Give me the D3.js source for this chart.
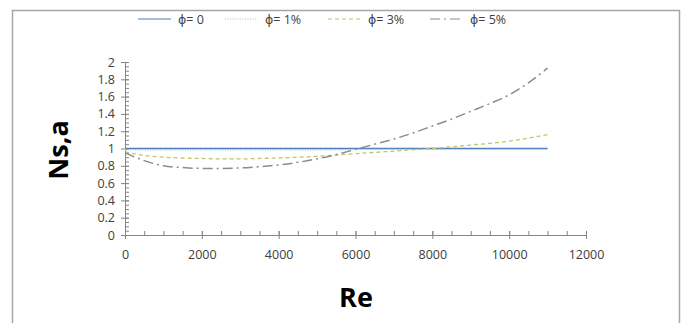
<!DOCTYPE html>
<html>
<head>
<meta charset="utf-8">
<script src="https://cdn.jsdelivr.net/npm/d3@7"></script>
<style>
  body { margin: 0; background: #fff; }
  .tick text { font-family: "Open Sans", sans-serif; font-size: 12.5px; fill: #404040; }
  .axisTitle { font-family: "Open Sans", sans-serif; font-weight: bold; font-size: 27px; fill: #000; }
  .legendText { font-family: "Open Sans", sans-serif; font-size: 12.5px; fill: #404040; }
  .phi { font-family: "DejaVu Sans", sans-serif; }
</style>
</head>
<body>
<div id="chart"></div>
<script>
// data
var re = [0, 500, 1000, 1500, 2000, 2500, 3000, 3500, 4000, 4500, 5000, 5500, 6000, 6500, 7000, 7500, 8000, 8500, 9000, 9500, 10000, 10500, 11000];
var phi0 = [1, 1, 1, 1, 1, 1, 1, 1, 1, 1, 1, 1, 1, 1, 1, 1, 1, 1, 1, 1, 1, 1, 1];
var phi1 = [0.99, 0.985, 0.985, 0.985, 0.985, 0.985, 0.985, 0.985, 0.985, 0.985, 0.985, 0.985, 0.99, 0.99, 0.99, 0.99, 0.99, 0.99, 0.99, 0.99, 0.99, 0.99, 0.99];
var phi3 = [0.96, 0.92, 0.9, 0.89, 0.885, 0.88, 0.88, 0.885, 0.89, 0.9, 0.91, 0.925, 0.94, 0.955, 0.97, 0.985, 1.0, 1.02, 1.04, 1.06, 1.085, 1.12, 1.16];
var phi5 = [0.95, 0.86, 0.8, 0.78, 0.77, 0.77, 0.775, 0.79, 0.81, 0.84, 0.88, 0.93, 0.99, 1.05, 1.11, 1.18, 1.26, 1.34, 1.43, 1.52, 1.62, 1.76, 1.93];
var seriesNames = ["= 0", "= 1%", "= 3%", "= 5%"];
var xTicks = [0, 2000, 4000, 6000, 8000, 10000, 12000];
var yTicks = [0, 0.2, 0.4, 0.6, 0.8, 1, 1.2, 1.4, 1.6, 1.8, 2];

var svgWidth = 682;
var svgHeight = 323;
var margin = { top: 62, right: 96, bottom: 88, left: 125 };
var width = svgWidth - margin.left - margin.right;
var height = svgHeight - margin.top - margin.bottom;

var svg = d3.select("#chart")
  .append("svg")
  .attr("width", svgWidth)
  .attr("height", svgHeight);

// outer frame
svg.append("rect")
  .attr("x", 12.5)
  .attr("y", 10.5)
  .attr("width", 667)
  .attr("height", 330)
  .attr("fill", "none")
  .attr("stroke", "#a6a6a6")
  .attr("stroke-width", 1.5);

var chartGroup = svg.append("g")
  .attr("transform", `translate(${margin.left}, ${margin.top})`);

var x = d3.scaleLinear().domain([0, 12000]).range([0, width]);
var y = d3.scaleLinear().domain([0, 2]).range([height, 0]);

// minor ticks
chartGroup.append("g")
  .attr("transform", `translate(0, ${height})`)
  .call(d3.axisTop(x).tickValues(d3.range(0, 12001, 500)).tickSize(4).tickFormat(""))
  .call(g => g.select(".domain").remove())
  .call(g => g.selectAll("line").attr("stroke", "#868686"));

chartGroup.append("g")
  .call(d3.axisRight(y).tickValues(d3.range(0, 2.001, 0.05)).tickSize(4).tickFormat(""))
  .call(g => g.select(".domain").remove())
  .call(g => g.selectAll("line").attr("stroke", "#868686"));

// major axes
var xAxis = chartGroup.append("g")
  .attr("transform", `translate(0, ${height})`)
  .call(d3.axisBottom(x).tickValues(xTicks).tickFormat(d3.format("d")).tickSize(4).tickPadding(11).tickSizeOuter(0));

var yAxis = chartGroup.append("g")
  .call(d3.axisLeft(y).tickValues(yTicks).tickFormat(d3.format("~g")).tickSize(4).tickPadding(6).tickSizeOuter(0));

[xAxis, yAxis].forEach(function(a) {
  a.select(".domain").attr("stroke", "#868686");
  a.selectAll(".tick line").attr("stroke", "#868686");
});
xAxis.selectAll(".tick line").attr("y1", -4);
yAxis.selectAll(".tick line").attr("x1", 4);

// lines
var series = [
  { values: phi0, color: "#4a7ebb", dash: null, w: 1.3 },
  { values: phi1, color: "#9dc3e6", dash: "1,1.5", w: 1.3 },
  { values: phi3, color: "#c4c26a", dash: "4,3", w: 1.3 },
  { values: phi5, color: "#8c8c8c", dash: "10,4,2,4", w: 1.5 }
];

var line = d3.line()
  .x((d, i) => x(re[i]))
  .y(d => y(d))
  .curve(d3.curveMonotoneX);

series.forEach(function(s) {
  chartGroup.append("path")
    .datum(s.values)
    .attr("fill", "none")
    .attr("stroke", s.color)
    .attr("stroke-width", s.w)
    .attr("stroke-dasharray", s.dash)
    .attr("d", line);
});

// legend
var legendX = [138, 225, 328, 430];
var legend = svg.append("g");
series.forEach(function(s, i) {
  legend.append("line")
    .attr("x1", legendX[i]).attr("x2", legendX[i] + 33)
    .attr("y1", 19).attr("y2", 19)
    .attr("stroke", s.color)
    .attr("stroke-width", 1.1)
    .attr("stroke-dasharray", s.dash);
  var t = legend.append("text")
    .attr("class", "legendText")
    .attr("x", legendX[i] + 40)
    .attr("y", 24);
  t.append("tspan").attr("class", "phi").text("\u03d5");
  t.append("tspan").text(seriesNames[i]);
});

// axis titles
svg.append("text")
  .attr("class", "axisTitle")
  .attr("transform", "translate(68, 150) rotate(-90)")
  .attr("text-anchor", "middle")
  .text("Ns,a");

svg.append("text")
  .attr("class", "axisTitle")
  .attr("x", 356)
  .attr("y", 307)
  .attr("text-anchor", "middle")
  .text("Re");
</script>
</body>
</html>
